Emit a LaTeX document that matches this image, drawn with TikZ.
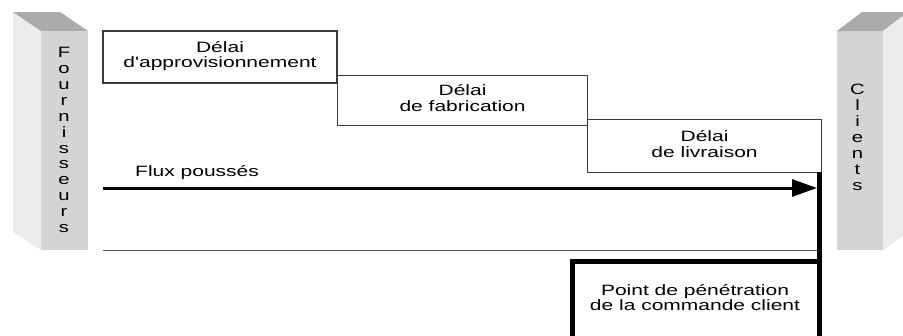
\documentclass[tikz,border=0pt]{standalone}
\usepackage{fontspec}
\setmainfont{Liberation Sans}[Ligatures=TeXOff]
\usetikzlibrary{arrows.meta}
\definecolor{sidelight}{HTML}{ECECEC}
\definecolor{sidetop}{HTML}{ABABAB}
\definecolor{sidefront}{HTML}{D4D4D4}
\definecolor{boxline}{HTML}{3A3A3A}
\newcommand{\widetxt}[1]{\scalebox{1.4}[1]{\fontsize{15}{15.5}\selectfont\begin{tabular}{@{}c@{}}#1\end{tabular}}}
\begin{document}
\begin{tikzpicture}[x=1pt,y=-1pt,
  delaybox/.style={draw=boxline, line width=1.1pt, rectangle, inner sep=0pt},
  pillartext/.style={font=\fontsize{15}{15.9}\selectfont, align=center, inner sep=0pt, xscale=1.35},
  push/.style={line width=3pt, -{Triangle[length=25pt,width=17pt]}},
  heavy/.style={line width=5pt}]
\useasboundingbox (0,0) rectangle (903,335);
\clip (0,0) rectangle (903,335);

% supplier pillar
\fill[sidelight] (13,12) -- (41,31) -- (41,250) -- (13,232) -- cycle;
\fill[sidetop] (13,12) -- (60,12) -- (88,31) -- (41,31) -- cycle;
\fill[sidefront] (41,31) rectangle (88,250);
\node[pillartext] (four) at (64,140) {F\\o\\u\\r\\n\\i\\s\\s\\e\\u\\r\\s};

% customer pillar
\fill[sidefront] (837,31) rectangle (883,250);
\fill[sidetop] (837,31) -- (862,12) -- (908,12) -- (883,31) -- cycle;
\fill[sidelight] (883,31) -- (908,12) -- (908,232) -- (883,250) -- cycle;
\node[pillartext] (cli) at (857.5,137.5) {C\\l\\i\\e\\n\\t\\s};

% lead-time boxes
\node[delaybox, minimum width=234pt, minimum height=52pt] (appro) at (220,57)
  {\widetxt{Délai\\d'approvisionnement}};
\node[delaybox, minimum width=250pt, minimum height=50pt, anchor=north west] (fab) at (337,75)
  {\widetxt{Délai\\de fabrication}};
\node[delaybox, minimum width=234pt, minimum height=53pt, anchor=north west] (livr) at (587,119)
  {\widetxt{Délai\\de livraison}};

% push flow
\coordinate (fluxstart) at (103,188);
\coordinate (fluxend) at (817,188);
\node[anchor=base west, inner sep=0pt] (fluxlbl) at (135,177) {\widetxt{Flux poussés}};
\draw[push] (fluxstart) -- (fluxend);

% lower boundary
\coordinate (basestart) at (103,250);
\coordinate (baseend) at (818,250);
\draw[line width=0.9pt, black!70] (basestart) -- (baseend);

% order penetration point
\coordinate (bartop) at (819,172);
\coordinate (barbot) at (819,345);
\draw[heavy] (bartop) -- (barbot);
\coordinate (pcccorner) at (819,261);
\coordinate (pccbot) at (572.5,345);
\draw[heavy] (pcccorner) -| (pccbot);
\node (pcc) at (695,300) {\widetxt{Point de pénétration\\de la commande client}};
\end{tikzpicture}
\end{document}
